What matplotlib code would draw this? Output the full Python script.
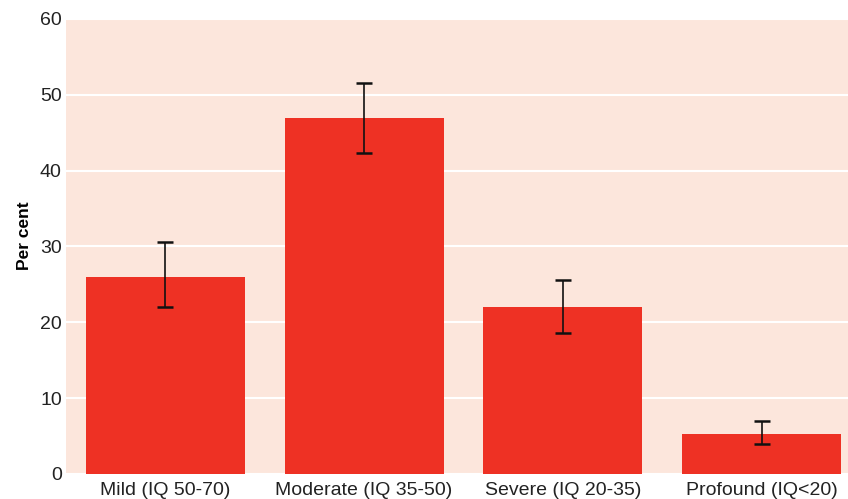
import matplotlib
matplotlib.use('Agg')
import matplotlib.pyplot as plt

# Data
categories = ['Mild (IQ 50-70)', 'Moderate (IQ 35-50)', 'Severe (IQ 20-35)', 'Profound (IQ<20)']
values = [26.0, 46.9, 22.0, 5.3]
err_low = [22.0, 42.3, 18.6, 4.0]
err_high = [30.6, 51.6, 25.6, 7.0]
yticks = [0, 10, 20, 30, 40, 50, 60]

plt.rcParams['font.family'] = ['Liberation Sans', 'DejaVu Sans']

fig = plt.figure(figsize=(8.48, 4.99), dpi=100)
ax = fig.add_axes([66/848, 1 - 474/499, (848-66)/848, (474-19)/499])

bg = '#fce6dc'
ax.set_facecolor(bg)
x = list(range(len(categories)))
yerr = [[v - lo for v, lo in zip(values, err_low)],
        [hi - v for v, hi in zip(values, err_high)]]

ax.bar(x, values, width=0.8, color='#ee3124', zorder=3)
ax.errorbar(x, values, yerr=yerr, fmt='none', ecolor='#111111', elinewidth=1.2,
            capsize=5.5, capthick=1.8, zorder=4)

ax.set_ylim(0, 60)
ax.set_xlim(-0.5, 3.435)
ax.set_yticks(yticks)
ax.set_xticks(x)
ax.set_xticklabels(categories)
ax.yaxis.grid(True, color='white', linewidth=1.5, zorder=1)
ax.set_axisbelow(True)
for s in ax.spines.values():
    s.set_visible(False)
ax.tick_params(axis='both', length=0, labelsize=14, colors='#222222')
ax.tick_params(axis='y', pad=3)
ax.tick_params(axis='x', pad=6)
ax.set_ylabel('Per cent', fontsize=12.5, fontweight='bold')
ax.yaxis.set_label_coords(-0.0435, 0.523)

fig.savefig('out.png', dpi=100, facecolor='white')
